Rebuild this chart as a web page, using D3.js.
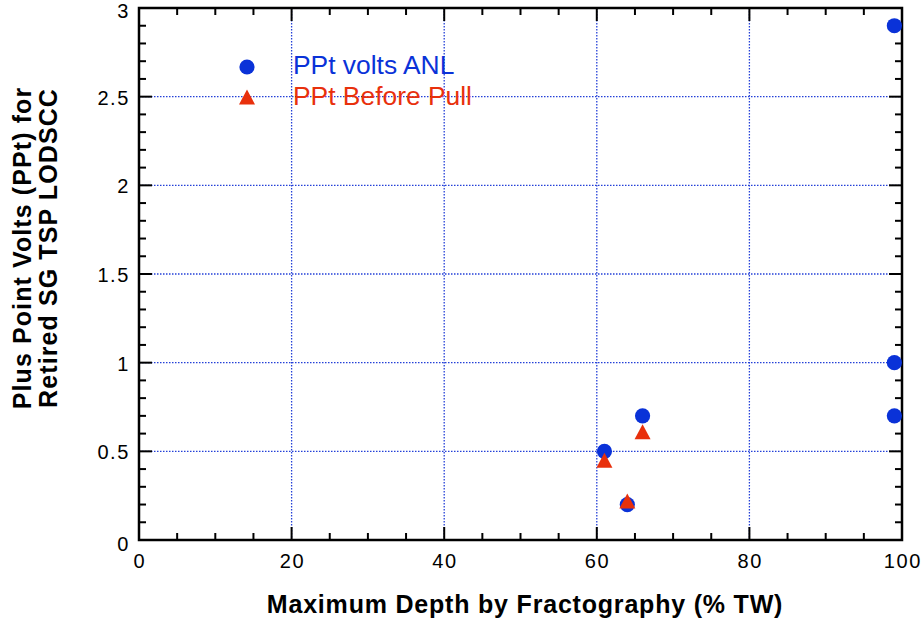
<!DOCTYPE html>
<html><head><meta charset="utf-8">
<script src="https://cdn.jsdelivr.net/npm/d3@7"></script>
<style>body{margin:0;background:#fff}svg{display:block}</style>
</head><body>
<svg id="c" width="922" height="619"></svg>
<script>
const anlX = [61, 66, 64, 99, 99, 99];
const anlY = [0.5, 0.7, 0.2, 2.9, 1.0, 0.7];
const pullX = [61, 66, 64];
const pullY = [0.45, 0.61, 0.22];
const xTicks = [0, 20, 40, 60, 80, 100];
const yTicks = [0, 0.5, 1, 1.5, 2, 2.5, 3];
const yTickLabels = ["0", "0.5", "1", "1.5", "2", "2.5", "3"];
const seriesNames = ["PPt volts ANL", "PPt Before Pull"];

const svg = d3.select("#c");
const L = 139, R = 902, T = 8, B = 540;
const x = d3.scaleLinear().domain([0, 100]).range([L, R]);
const y = d3.scaleLinear().domain([0, 3]).range([B, T]);
const font = "'Liberation Sans', Arial, Helvetica, sans-serif";
const blue = "#0a32d8", red = "#e8300c", grid = "#2440d8";

// grid
const g = svg.append("g");
g.selectAll(".gx").data(xTicks.filter(d => d > 0 && d < 100)).enter().append("line")
  .attr("x1", d => x(d)).attr("x2", d => x(d)).attr("y1", T).attr("y2", B)
  .attr("stroke", grid).attr("stroke-width", 1.3).attr("stroke-dasharray", "1.5,1.5");
g.selectAll(".gy").data(yTicks.filter(d => d > 0 && d < 3)).enter().append("line")
  .attr("y1", d => y(d)).attr("y2", d => y(d)).attr("x1", L).attr("x2", R)
  .attr("stroke", grid).attr("stroke-width", 1.3).attr("stroke-dasharray", "1.5,1.5");

// axes (ticks inward on all sides)
const xMinor = d3.range(0, 101, 5);
const yMinor = d3.range(0, 31, 1).map(d => d / 10);
const tk = svg.append("g").attr("stroke", "#000").attr("stroke-width", 2);
xMinor.forEach(v => {
  const major = v % 20 === 0;
  const len = major ? 13 : 7;
  tk.append("line").attr("x1", x(v)).attr("x2", x(v)).attr("y1", B).attr("y2", B - len);
  tk.append("line").attr("x1", x(v)).attr("x2", x(v)).attr("y1", T).attr("y2", T + len);
});
yMinor.forEach(v => {
  const major = Math.round(v * 10) % 5 === 0;
  const len = major ? 13 : 7;
  tk.append("line").attr("y1", y(v)).attr("y2", y(v)).attr("x1", L).attr("x2", L + len);
  tk.append("line").attr("y1", y(v)).attr("y2", y(v)).attr("x1", R).attr("x2", R - len);
});
svg.append("rect").attr("x", L).attr("y", T).attr("width", R - L).attr("height", B - T)
  .attr("fill", "none").attr("stroke", "#000").attr("stroke-width", 2.5);

// tick labels
svg.append("g").selectAll("text").data(xTicks).enter().append("text")
  .attr("x", d => x(d) + 0.8).attr("y", 568).attr("text-anchor", "middle")
  .attr("font-family", font).attr("font-size", 20).attr("letter-spacing", 1.6).text(d => d);
svg.append("g").selectAll("text").data(yTicks).enter().append("text")
  .attr("x", 130).attr("y", d => y(d) + (d === 3 ? 10 : d === 0 ? 11 : 8)).attr("text-anchor", "end")
  .attr("font-family", font).attr("font-size", 20).attr("letter-spacing", 1.6).text((d, i) => yTickLabels[i]);

// axis titles
svg.append("text").attr("x", 525).attr("y", 613).attr("text-anchor", "middle")
  .attr("font-family", font).attr("font-weight", "bold").attr("font-size", 25).attr("letter-spacing", 0.8)
  .text("Maximum Depth by Fractography (% TW)");
const yl = svg.append("text").attr("transform", "translate(0,248) rotate(-90)")
  .attr("text-anchor", "middle").attr("font-family", font).attr("font-weight", "bold")
  .attr("font-size", 25).attr("letter-spacing", 1.1);
yl.append("tspan").attr("x", 0).attr("y", 31).text("Plus Point Volts (PPt) for");
yl.append("tspan").attr("x", 0).attr("y", 57).text("Retired SG TSP LODSCC");

// markers
const tri = (cx, cy) => {
  const w = 16, h = 15;
  return `M${cx},${cy - h / 2}L${cx + w / 2},${cy + h / 2}L${cx - w / 2},${cy + h / 2}Z`;
};
svg.append("g").selectAll("circle").data(anlX).enter().append("circle")
  .attr("cx", d => x(d)).attr("cy", (d, i) => y(anlY[i])).attr("r", 7.6).attr("fill", blue);
svg.append("g").selectAll("path").data(pullX).enter().append("path")
  .attr("d", (d, i) => tri(x(d), y(pullY[i]))).attr("fill", red);

// legend
svg.append("circle").attr("cx", 247).attr("cy", 67).attr("r", 7.6).attr("fill", blue);
svg.append("path").attr("d", tri(247, 97)).attr("fill", red);
svg.append("text").attr("x", 293).attr("y", 74).attr("font-family", font).attr("font-size", 26.4)
  .attr("fill", blue).text(seriesNames[0]);
svg.append("text").attr("x", 293).attr("y", 105).attr("font-family", font).attr("font-size", 26.4)
  .attr("fill", red).text(seriesNames[1]);
</script>
</body></html>
